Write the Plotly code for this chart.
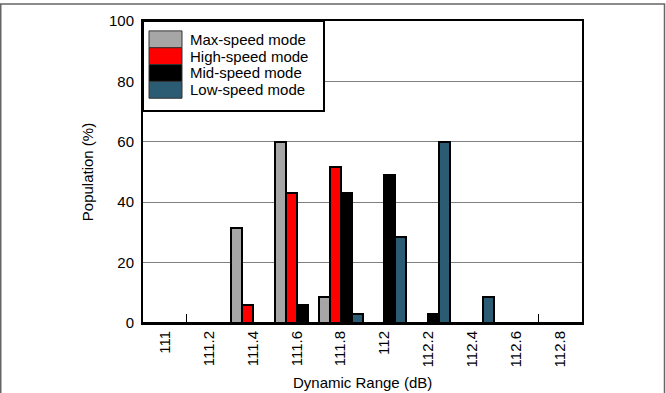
import plotly.graph_objects as go

# data
categories = ["111", "111.2", "111.4", "111.6", "111.8", "112", "112.2", "112.4", "112.6", "112.8"]
max_speed = [0, 0, 31.5, 60, 8.5, 0, 0, 0, 0, 0]
high_speed = [0, 0, 6, 43, 51.5, 0, 0, 0, 0, 0]
mid_speed = [0, 0, 0, 6, 43, 49, 3, 0, 0, 0]
low_speed = [0, 0, 0, 0, 3, 28.5, 60, 8.7, 0, 0]

series_names = ["Max-speed mode", "High-speed mode", "Mid-speed mode", "Low-speed mode"]
series_colors = ["#A6A6A6", "#FF0000", "#000000", "#2B5C74"]
series_values = [max_speed, high_speed, mid_speed, low_speed]

W, H = 666, 393
L, R, T, B = 143, 84, 18, 70
PW, PH = W - L - R, H - T - B
FONT = "Liberation Sans, Arial, sans-serif"


def px(x):
    return (x - L) / PW


def py(y):
    return (H - B - y) / PH


fig = go.Figure()
for name, color, vals in zip(series_names, series_colors, series_values):
    fig.add_trace(go.Bar(x=categories, y=vals, name=name,
                         marker=dict(color=color, line=dict(color="black", width=2)),
                         showlegend=False))

# hand-built legend with tall swatches like the original
shapes = [
    # outer page border
    dict(type="rect", xref="paper", yref="paper",
         x0=px(0.75), x1=px(W - 1.5), y0=py(H + 10), y1=py(0.75),
         line=dict(color="#666666", width=1.5), fillcolor="rgba(0,0,0,0)", layer="below"),
    # legend box
    dict(type="rect", xref="paper", yref="paper",
         x0=px(L), x1=px(324), y0=py(109), y1=py(T),
         line=dict(color="black", width=2), fillcolor="white", layer="above"),
]
annotations = [
    # x-axis title, placed by hand so it doesn't push the bottom margin
    dict(xref="paper", yref="paper", x=0.5, y=py(383), text="Dynamic Range (dB)",
         showarrow=False, xanchor="center", yanchor="middle",
         font=dict(size=15, color="black", family=FONT)),
]
row_top, row_h = 28, 17
for i, (name, color) in enumerate(zip(series_names, series_colors)):
    y0 = row_top + i * row_h
    shapes.append(dict(type="rect", xref="paper", yref="paper",
                       x0=px(149), x1=px(182), y0=py(y0 + row_h), y1=py(y0),
                       line=dict(color="#333333", width=1), fillcolor=color, layer="above"))
    annotations.append(dict(xref="paper", yref="paper", x=px(188), y=py(y0 + row_h / 2),
                            text=name, showarrow=False, xanchor="left", yanchor="middle",
                            font=dict(size=15, color="black", family=FONT)))

fig.update_layout(
    width=W, height=H,
    margin=dict(l=L, r=R, t=T, b=B),
    paper_bgcolor="white", plot_bgcolor="white",
    barmode="group", bargap=0, bargroupgap=0,
    font=dict(family=FONT, size=15, color="black"),
    shapes=shapes, annotations=annotations,
    xaxis=dict(type="category", tickangle=-90, showline=True, mirror=True,
               linecolor="black", linewidth=2, ticks="inside", ticklen=9,
               tickcolor="black", tickwidth=1, tickson="boundaries",
               layer="below traces", showgrid=False, automargin=False,
               tickfont=dict(size=15)),
    yaxis=dict(range=[0, 100], dtick=20, showline=True, mirror=True,
               linecolor="black", linewidth=2, showgrid=True,
               gridcolor="#808080", gridwidth=1, zeroline=False,
               ticks="", ticklabelstandoff=4,
               title=dict(text="Population (%)", standoff=12, font=dict(size=15)),
               tickfont=dict(size=15)),
)

# drop the default body margin so the figure sits at the window's corner
fig.write_html("out.html", config={"displayModeBar": False},
               post_script="document.body.style.margin='0';")
